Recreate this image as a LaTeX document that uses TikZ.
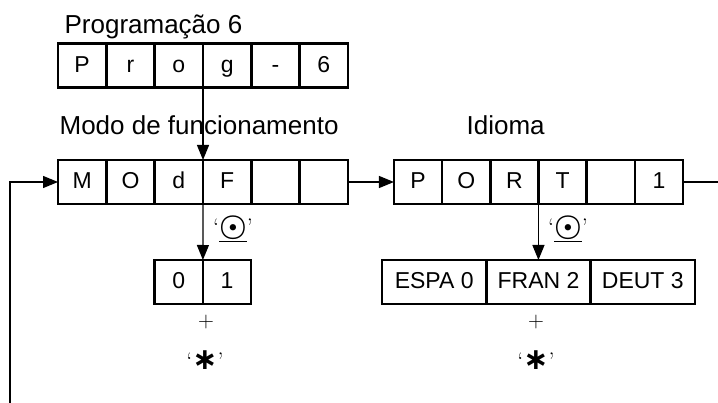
\documentclass[tikz,border=0pt]{standalone}
\usepackage{fontspec}
\setsansfont{Liberation Sans}
\newfontfamily\symfont{DejaVu Sans}
\usetikzlibrary{arrows.meta, positioning}
\tikzset{
  every picture/.style={font=\sffamily, line width=1.2pt},
  cell/.style={draw, line width=2.5pt, minimum width=#1, minimum height=44pt, inner sep=0pt, outer sep=0pt,
    text height=17pt, text depth=3pt, font=\sffamily\fontsize{23}{26}\selectfont},
  cell/.default=48.3pt,
  arrow/.style={-{Triangle[length=15pt, width=12pt]}, line width=1.2pt},
  title/.style={font=\sffamily\fontsize{26}{30}\selectfont, anchor=base west, inner sep=0pt},
  key/.style={font=\rmfamily\fontsize{24}{30}\selectfont, inner sep=0pt},
  plus/.style={font=\rmfamily\fontsize{22}{26}\selectfont, inner sep=0pt, text height=11pt, text depth=0pt},
}
\newcommand{\bigast}{{\symfont\bfseries\fontsize{30}{30}\selectfont ∗}}

\begin{document}
\begin{tikzpicture}[x=1pt, y=-1pt]
  \useasboundingbox (0,0) rectangle (718,403);
  % program entry
  \node[title] (tprog) at (64,34) {Programação 6};
  \foreach \t [count=\i] in {P,r,o,g,-,6}
    \node[cell] (p\i) at ({58+48.33*(\i-0.5)},65.5) {\t};
  % operating mode
  \node[title] (tmode) at (59,135) {Modo de funcionamento};
  \foreach \t [count=\i] in {M,O,d,F,{},{}}
    \node[cell] (m\i) at ({58+48.33*(\i-0.5)},182) {\t};
  \draw[arrow] (p4.south west) -- (m4.north west);
  \coordinate (loopin) at (10,403);
  \draw[arrow] (loopin) |- (m1.west);
  % mode values
  \node[cell] (v0) at (178.75,282) {0};
  \node[cell, right=0pt of v0] (v1) {1};
  \draw[arrow] (m4.south west) -- (v1.north west);
  \node[key] (k1) at (233,229) {‘\underline{\scalebox{1.25}{\boldmath$\odot$}}’};
  \node[plus] (s1) at (206,322) {+};
  \node[key] (a1) at (205,360) {‘\bigast’};
  % language
  \node[title] (tlang) at (466,135) {Idioma};
  \foreach \t [count=\i] in {P,O,R,T,{},1}
    \node[cell] (o\i) at ({394+48.17*(\i-0.5)},182) {\t};
  \draw[arrow] (m6.east) -- (o1.west);
  \coordinate (loopout) at (718,182);
  \draw (o6.east) -- (loopout);
  % language values
  \node[cell=104.3pt] (l1) at (434.2,282) {ESPA 0};
  \node[cell=104.3pt, right=0pt of l1] (l2) {FRAN 2};
  \node[cell=104.3pt, right=0pt of l2] (l3) {DEUT 3};
  \draw[arrow] (o4.south west) -- (o4.south west |- l2.north);
  \node[key] (k2) at (568,229) {‘\underline{\scalebox{1.25}{\boldmath$\odot$}}’};
  \node[plus] (s2) at (536,322) {+};
  \node[key] (a2) at (536,360) {‘\bigast’};
\end{tikzpicture}
\end{document}
